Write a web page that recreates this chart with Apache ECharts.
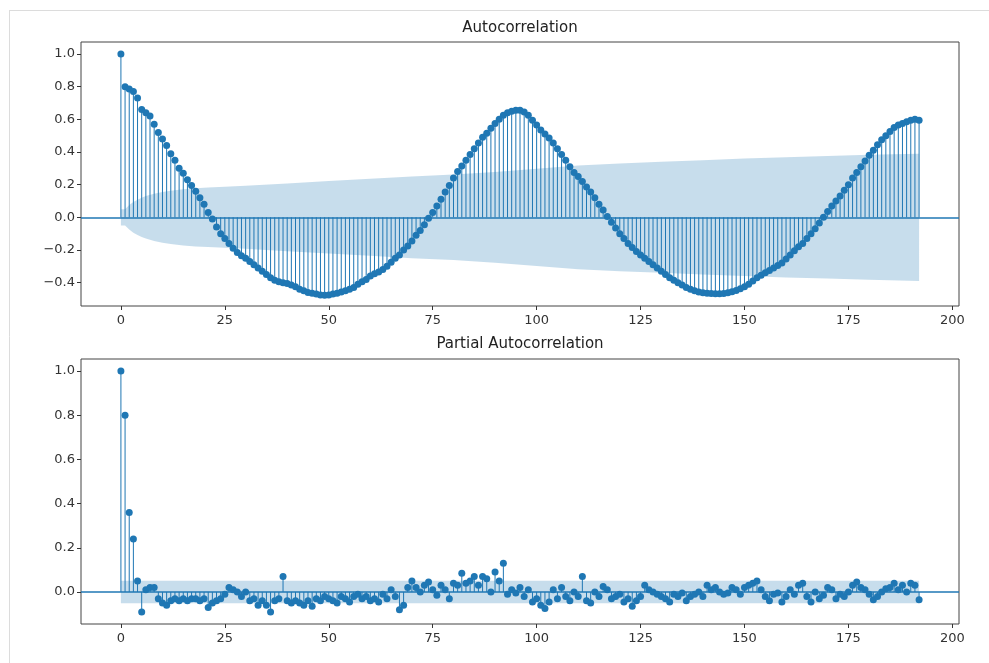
<!doctype html>
<html>
<head>
<meta charset="utf-8">
<title>ACF / PACF</title>
<style>
    html, body { margin: 0; padding: 0; background: #fff; }
    #main { width: 989px; height: 663px; }
</style>
</head>
<body>
<div id="main"></div>
<script src="https://cdn.jsdelivr.net/npm/echarts@6/dist/echarts.min.js"></script>
<script>
// autocorrelation, lags 0..192
var acfValues = [
    1.00, 0.80, 0.785, 0.77, 0.73, 0.66, 0.64, 0.62, 0.57, 0.52,
    0.48, 0.44, 0.39, 0.35, 0.30, 0.27, 0.23, 0.195, 0.16, 0.12,
    0.08, 0.03, -0.01, -0.06, -0.10, -0.13, -0.16, -0.19, -0.215, -0.235,
    -0.25, -0.27, -0.29, -0.31, -0.33, -0.35, -0.37, -0.385, -0.395, -0.40,
    -0.405, -0.415, -0.425, -0.44, -0.45, -0.46, -0.465, -0.47, -0.475, -0.477,
    -0.475, -0.47, -0.465, -0.458, -0.45, -0.44, -0.43, -0.41, -0.395, -0.38,
    -0.36, -0.345, -0.335, -0.32, -0.30, -0.275, -0.25, -0.23, -0.20, -0.175,
    -0.145, -0.11, -0.08, -0.045, -0.005, 0.03, 0.07, 0.11, 0.155, 0.195,
    0.24, 0.28, 0.315, 0.35, 0.385, 0.42, 0.455, 0.49, 0.515, 0.545,
    0.575, 0.60, 0.625, 0.64, 0.65, 0.655, 0.655, 0.645, 0.625, 0.595,
    0.565, 0.535, 0.51, 0.485, 0.455, 0.42, 0.385, 0.35, 0.31, 0.275,
    0.25, 0.22, 0.185, 0.155, 0.12, 0.08, 0.045, 0.005, -0.03, -0.065,
    -0.10, -0.13, -0.16, -0.185, -0.21, -0.23, -0.25, -0.27, -0.29, -0.31,
    -0.33, -0.35, -0.37, -0.385, -0.40, -0.415, -0.43, -0.44, -0.45, -0.457,
    -0.462, -0.465, -0.467, -0.468, -0.468, -0.466, -0.462, -0.456, -0.448, -0.438,
    -0.425, -0.41, -0.39, -0.37, -0.355, -0.34, -0.325, -0.31, -0.295, -0.28,
    -0.255, -0.23, -0.205, -0.18, -0.16, -0.13, -0.10, -0.07, -0.035, 0.0,
    0.035, 0.07, 0.10, 0.13, 0.165, 0.20, 0.24, 0.275, 0.31, 0.345,
    0.38, 0.41, 0.445, 0.475, 0.50, 0.525, 0.55, 0.565, 0.575, 0.585,
    0.595, 0.60, 0.595
];

// partial autocorrelation, lags 0..192
var pacfValues = [
    1.00, 0.80, 0.36, 0.24, 0.05, -0.09, 0.01, 0.02, 0.02, -0.03,
    -0.05, -0.06, -0.04, -0.03, -0.04, -0.03, -0.04, -0.03, -0.03, -0.04,
    -0.03, -0.07, -0.05, -0.04, -0.03, -0.01, 0.02, 0.01, 0.00, -0.02,
    0.00, -0.04, -0.03, -0.06, -0.04, -0.06, -0.09, -0.04, -0.03, 0.07,
    -0.04, -0.05, -0.04, -0.05, -0.06, -0.04, -0.065, -0.03, -0.04, -0.02,
    -0.03, -0.04, -0.05, -0.02, -0.03, -0.045, -0.02, -0.01, -0.03, -0.02,
    -0.04, -0.03, -0.045, -0.01, -0.03, 0.01, -0.02, -0.08, -0.06, 0.02,
    0.05, 0.02, 0.00, 0.03, 0.045, 0.01, -0.015, 0.03, 0.01, -0.03,
    0.04, 0.03, 0.085, 0.04, 0.05, 0.07, 0.03, 0.07, 0.06, 0.00,
    0.09, 0.05, 0.13, -0.01, 0.01, -0.005, 0.02, -0.02, 0.01, -0.045,
    -0.03, -0.06, -0.075, -0.045, 0.01, -0.03, 0.02, -0.02, -0.04, 0.00,
    -0.02, 0.07, -0.04, -0.05, 0.00, -0.02, 0.025, 0.01, -0.03, -0.02,
    -0.01, -0.045, -0.03, -0.065, -0.04, -0.02, 0.03, 0.01, 0.00, -0.01,
    -0.02, -0.03, -0.045, -0.01, -0.02, -0.005, -0.04, -0.02, -0.01, 0.00,
    -0.02, 0.03, 0.01, 0.02, 0.00, -0.01, -0.005, 0.02, 0.01, -0.01,
    0.02, 0.03, 0.04, 0.05, 0.01, -0.02, -0.04, -0.01, -0.005, -0.045,
    -0.02, 0.01, -0.01, 0.03, 0.04, -0.02, -0.045, 0.00, -0.03, -0.015,
    0.02, 0.01, -0.03, -0.01, -0.02, 0.00, 0.03, 0.045, 0.02, 0.01,
    -0.01, -0.035, -0.02, 0.00, 0.015, 0.02, 0.04, 0.01, 0.03, 0.00,
    0.04, 0.03, -0.035
];

// confidence bands (half widths around zero)
var acfBandLags = [0, 1, 2, 3, 4, 5, 6, 8, 10, 12, 15, 18, 21, 25, 30, 40, 50, 60, 70, 80, 90, 100, 110, 120, 130, 140, 150, 160, 170, 180, 192];
var acfBandHalf = [0.05, 0.05, 0.075, 0.094, 0.108, 0.12, 0.13, 0.145, 0.155, 0.163, 0.172, 0.178, 0.182, 0.187, 0.193, 0.207, 0.222, 0.236, 0.25, 0.262, 0.278, 0.298, 0.318, 0.33, 0.34, 0.35, 0.36, 0.368, 0.375, 0.383, 0.39];
var pacfBandLags = [0, 192];
var pacfBandHalf = [0.051, 0.051];

var xTicks = [0, 25, 50, 75, 100, 125, 150, 175, 200];
var acfYTicks = [-0.4, -0.2, 0.0, 0.2, 0.4, 0.6, 0.8, 1.0];
var pacfYTicks = [0.0, 0.2, 0.4, 0.6, 0.8, 1.0];

var C0 = '#1f77b4';
var FONT = 'DejaVu Sans';

function pairs(xs, ys, sign) {
    return xs.map(function (x, i) { return [x, sign * ys[i]]; });
}

function stemItem(params, api) {
    var base = api.coord([api.value(0), 0]);
    var tip = api.coord([api.value(0), api.value(1)]);
    return {
        type: 'line',
        shape: { x1: base[0], y1: base[1], x2: tip[0], y2: tip[1] },
        style: { stroke: C0, lineWidth: 1 }
    };
}

function panelSeries(idx, values, bandLags, bandHalf) {
    var pts = values.map(function (v, i) { return [i, v]; });
    var bandStyle = { color: 'rgba(31,119,180,0.25)', opacity: 1 };
    return [
        {
            type: 'custom', xAxisIndex: idx, yAxisIndex: idx,
            renderItem: stemItem, data: pts, z: 2, silent: true
        },
        {
            type: 'scatter', xAxisIndex: idx, yAxisIndex: idx,
            data: pts, symbolSize: 7, itemStyle: { color: C0, opacity: 1 }, z: 3, silent: true,
            markLine: {
                silent: true, symbol: 'none', label: { show: false },
                lineStyle: { color: C0, width: 1.5, type: 'solid' },
                data: [{ yAxis: 0 }]
            }
        },
        {
            type: 'line', xAxisIndex: idx, yAxisIndex: idx,
            data: pairs(bandLags, bandHalf, 1), showSymbol: false, smooth: false,
            lineStyle: { width: 0, opacity: 0 }, areaStyle: bandStyle, z: 4, silent: true
        },
        {
            type: 'line', xAxisIndex: idx, yAxisIndex: idx,
            data: pairs(bandLags, bandHalf, -1), showSymbol: false, smooth: false,
            lineStyle: { width: 0, opacity: 0 }, areaStyle: bandStyle, z: 4, silent: true
        }
    ];
}

function fmtY(v) {
    return v.toFixed(1).replace('-', '\u2212');
}

function xAxisFor(idx) {
    return {
        type: 'value', gridIndex: idx, min: -9.6, max: 201.6,
        axisLine: { show: false, onZero: false },
        splitLine: { show: false },
        axisTick: { show: true, length: 4, customValues: xTicks, lineStyle: { color: '#333' } },
        axisLabel: { customValues: xTicks, margin: 8, color: '#333', fontSize: 13, fontFamily: FONT }
    };
}

function yAxisFor(idx, min, max, ticks) {
    return {
        type: 'value', gridIndex: idx, min: min, max: max,
        axisLine: { show: false, onZero: false },
        splitLine: { show: false },
        axisTick: { show: true, length: 4, customValues: ticks, lineStyle: { color: '#333' } },
        axisLabel: { customValues: ticks, margin: 6, color: '#333', fontSize: 13, fontFamily: FONT, formatter: fmtY }
    };
}

var chart = echarts.init(document.getElementById('main'));

chart.setOption({
    animation: false,
    backgroundColor: '#fff',
    grid: [
        { left: 81, top: 42, width: 878, height: 264, show: true, borderColor: '#444', borderWidth: 1, backgroundColor: 'transparent' },
        { left: 81, top: 359, width: 878, height: 265, show: true, borderColor: '#444', borderWidth: 1, backgroundColor: 'transparent' }
    ],
    xAxis: [xAxisFor(0), xAxisFor(1)],
    yAxis: [
        yAxisFor(0, -0.543, 1.0735, acfYTicks),
        yAxisFor(1, -0.1448, 1.0543, pacfYTicks)
    ],
    graphic: [
        { type: 'line', shape: { x1: 9, y1: 10.5, x2: 989, y2: 10.5 }, style: { stroke: '#dcdcdc', lineWidth: 1 }, silent: true },
        { type: 'line', shape: { x1: 9.5, y1: 10, x2: 9.5, y2: 663 }, style: { stroke: '#dcdcdc', lineWidth: 1 }, silent: true },
        { type: 'text', x: 520, y: 28, style: { text: 'Autocorrelation', font: '15px "DejaVu Sans"', fill: '#222', align: 'center', verticalAlign: 'middle' }, silent: true },
        { type: 'text', x: 520, y: 344, style: { text: 'Partial Autocorrelation', font: '15px "DejaVu Sans"', fill: '#222', align: 'center', verticalAlign: 'middle' }, silent: true }
    ],
    series: panelSeries(0, acfValues, acfBandLags, acfBandHalf)
        .concat(panelSeries(1, pacfValues, pacfBandLags, pacfBandHalf))
});

window.addEventListener('resize', function () {
    chart.resize();
});
</script>
</body>
</html>
